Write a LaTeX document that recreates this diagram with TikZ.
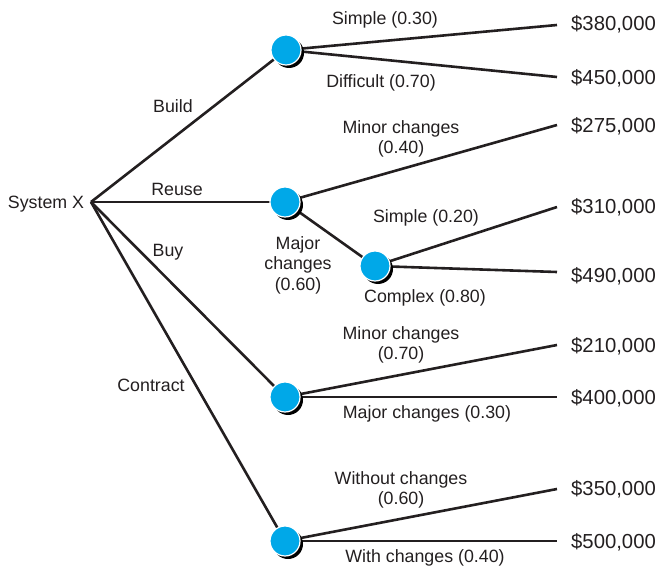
\documentclass[tikz,border=0pt]{standalone}
\usepackage{fontspec}
\setmainfont{Liberation Sans}
\usetikzlibrary{shadows,backgrounds}
\definecolor{nodeblue}{RGB}{0,168,232}
\definecolor{ink}{RGB}{35,31,32}
\begin{document}
\begin{tikzpicture}[x=1pt,y=-1pt,
  lbl/.style={font=\fontsize{17.8}{20.5}\selectfont, align=center, inner sep=0pt, text=ink},
  amt/.style={font=\fontsize{20.3}{22}\selectfont, anchor=west, inner sep=0pt, text=ink},
  chance/.style={circle, minimum size=30pt, inner sep=0pt, fill=nodeblue, draw=white, line width=1.2pt,
    drop shadow={shadow xshift=3pt, shadow yshift=-3pt, fill=black, opacity=1}},
  branch/.style={line width=2.6pt, draw=ink}]
\useasboundingbox (0,0) rectangle (659,567);
% root
\coordinate (r) at (91,202);
\node[lbl] (sx) at (46,204) {System X};
% chance nodes
\node[chance] (n1) at (286,50) {};
\node[chance] (n2) at (285,202) {};
\node[chance] (n3) at (375,266) {};
\node[chance] (n4) at (285,397) {};
\node[chance] (n5) at (285,541) {};
% line ends
\coordinate (e1) at (557,25);
\coordinate (e2) at (557,77);
\coordinate (e3) at (557,125);
\coordinate (e4) at (557,207);
\coordinate (e5) at (557,272);
\coordinate (e6) at (557,345);
\coordinate (e7) at (557,397);
\coordinate (e8) at (557,489);
\coordinate (e9) at (557,541);
% amounts
\node[amt] (a1) at (571,24) {\$380,000};
\node[amt] (a2) at (571,78) {\$450,000};
\node[amt] (a3) at (571,126) {\$275,000};
\node[amt] (a4) at (571,207) {\$310,000};
\node[amt] (a5) at (571,276) {\$490,000};
\node[amt] (a6) at (571,346) {\$210,000};
\node[amt] (a7) at (571,398) {\$400,000};
\node[amt] (a8) at (571,489) {\$350,000};
\node[amt] (a9) at (571,542) {\$500,000};
% branch labels
\node[lbl] (lb1) at (173,106) {Build};
\node[lbl] (lb2) at (177,189) {Reuse};
\node[lbl] (lb3) at (168,252) {Buy};
\node[lbl] (lb4) at (151,385) {Contract};
\node[lbl] (l1) at (385,20) {Simple (0.30)};
\node[lbl] (l2) at (381,83) {Difficult (0.70)};
\node[lbl] (l3) at (401,139) {Minor changes\\(0.40)};
\node[lbl] (l4) at (426,218) {Simple (0.20)};
\node[lbl] (l5) at (298,265) {Major\\changes\\(0.60)};
\node[lbl] (l6) at (425,298) {Complex (0.80)};
\node[lbl] (l7) at (401,345) {Minor changes\\(0.70)};
\node[lbl] (l8) at (427,414) {Major changes (0.30)};
\node[lbl] (l9) at (401,490) {Without changes\\(0.60)};
\node[lbl] (l10) at (425,558) {With changes (0.40)};
% connectors
\begin{pgfonlayer}{background}
\draw[branch] (r) -- (n1.center);
\draw[branch] (r) -- (n2.center);
\draw[branch] (r) -- (n4.center);
\draw[branch] (r) -- (n5.center);
\draw[branch] (n1.center) -- (e1);
\draw[branch] (n1.center) -- (e2);
\draw[branch] (n2.center) -- (e3);
\draw[branch] (n2.center) -- (n3.center);
\draw[branch] (n3.center) -- (e4);
\draw[branch] (n3.center) -- (e5);
\draw[branch] (n4.center) -- (e6);
\draw[branch] (n4.center) -- (e7);
\draw[branch] (n5.center) -- (e8);
\draw[branch] (n5.center) -- (e9);
\end{pgfonlayer}
\end{tikzpicture}
\end{document}
